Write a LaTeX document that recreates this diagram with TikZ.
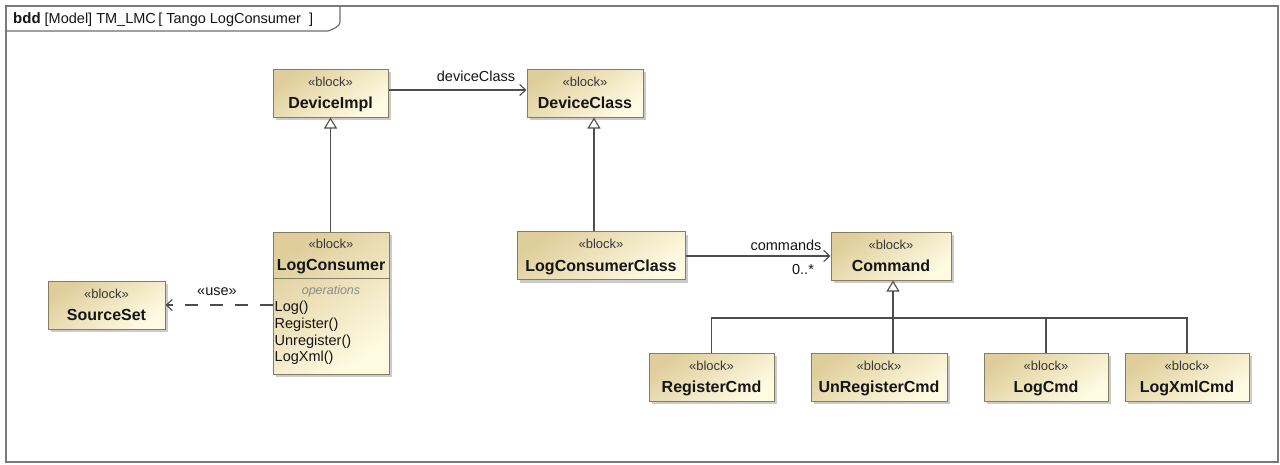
\documentclass[tikz,border=0pt]{standalone}
\usepackage{fontspec}
\setmainfont{Liberation Sans}
\usetikzlibrary{arrows.meta,shadows}

\definecolor{boxTop}{HTML}{DFCE9B}
\definecolor{boxBot}{HTML}{FFFBE3}
\definecolor{boxLine}{HTML}{857D5F}
\definecolor{wire}{HTML}{4D4D4D}
\definecolor{frameGray}{HTML}{7A7A7A}
\definecolor{txt}{HTML}{151515}
\definecolor{opsGray}{HTML}{8A8A8A}

\tikzset{
  blkbox/.style={draw=boxLine, line width=1pt, top color=boxTop, bottom color=boxBot,
    shading angle=35, inner sep=0pt,
    drop shadow={shadow xshift=3pt, shadow yshift=-3pt, fill=black!45, opacity=0.45}},
  stereo/.style={inner sep=0pt, text=txt!85, font=\fontsize{13}{15}\selectfont,
    text height=9.5pt, text depth=2pt},
  bname/.style={inner sep=0pt, text=txt, font=\bfseries\fontsize{16}{18}\selectfont,
    text height=11.5pt, text depth=3pt},
  lbl/.style={inner sep=0pt, text=txt, font=\fontsize{14.5}{16}\selectfont},
  opline/.style={inner sep=0pt, anchor=west, text=txt, font=\fontsize{14.5}{16}\selectfont},
  wireline/.style={draw=wire, line width=1.3pt},
  assoc/.style={wireline, -{Straight Barb[length=6pt, width=11pt, line width=1.1pt]}},
  gen/.style={wireline, -{Triangle[open, length=11pt, width=13pt, fill=white, line width=1.1pt]}},
  dep/.style={wireline, dash pattern=on 13pt off 12pt,
    -{Straight Barb[length=6pt, width=11pt, line width=1.1pt]}},
}

% a block: name, centre x, centre y, width, title
\newcommand{\sysblock}[5]{%
  \node[blkbox, minimum width=#4pt, minimum height=48pt] (#1) at (#2,#3) {};
  \node[stereo] (#1-st) at ([yshift=10.5pt]#1.center) {«block»};
  \node[bname] (#1-nm) at ([yshift=-11.5pt]#1.center) {#5};
}

\begin{document}
\begin{tikzpicture}[x=1pt, y=-1pt]
  \useasboundingbox (0,0) rectangle (1280,464);
  \fill[white] (0,0) rectangle (1280,464);

  % diagram frame and its heading tab
  \draw[frameGray, line width=2.2pt] (6,6) rectangle (1278,462);
  \draw[frameGray!90!black, line width=1.2pt]
    (6,31) -- (328,31) .. controls (334,29) and (340,26) .. (340,22) -- (340,6);
  \node[anchor=west, inner sep=0pt, text=txt, font=\fontsize{14.5}{16}\selectfont]
    (heading) at (13,19.5) {\textbf{\fontsize{15}{16}\selectfont bdd} [Model] TM\_LMC\,[ Tango LogConsumer \ ]};

  % blocks
  \sysblock{dimpl}{330.5}{93}{115}{DeviceImpl}
  \sysblock{dclass}{585}{93}{116}{DeviceClass}
  \sysblock{ss}{106.5}{305}{117}{SourceSet}
  \sysblock{lcc}{601}{255.5}{168}{LogConsumerClass}
  \sysblock{cmd}{891}{256}{120}{Command}
  \sysblock{rc}{711.5}{377}{125}{RegisterCmd}
  \sysblock{urc}{879}{377}{136}{UnRegisterCmd}
  \sysblock{lcmd}{1046}{377}{124}{LogCmd}
  \sysblock{lxc}{1187}{377}{124}{LogXmlCmd}

  % LogConsumer block with its operations compartment
  \node[blkbox, minimum width=116pt, minimum height=142pt] (lc) at (331,303) {};
  \node[stereo] (lc-st) at ([yshift=-13pt]lc.north) {«block»};
  \node[bname] (lc-nm) at ([yshift=-35pt]lc.north) {LogConsumer};
  \draw[boxLine, line width=1pt] ([yshift=-47pt]lc.north west) -- ([yshift=-47pt]lc.north east);
  \node[inner sep=0pt, text=opsGray, font=\itshape\fontsize{12.5}{14}\selectfont]
    (lc-ops) at ([yshift=-60pt]lc.north) {operations};
  \node[opline] (op1) at ([xshift=2pt, yshift=-76pt]lc.north west) {Log()};
  \node[opline] (op2) at ([xshift=2pt, yshift=-93pt]lc.north west) {Register()};
  \node[opline] (op3) at ([xshift=2pt, yshift=-110pt]lc.north west) {Unregister()};
  \node[opline] (op4) at ([xshift=2pt, yshift=-126pt]lc.north west) {LogXml()};

  % associations
  \draw[assoc] ([yshift=3pt]dimpl.east) -- ([yshift=3pt]dclass.west);
  \node[lbl] (lbl-dc) at (476,76) {deviceClass};
  \draw[assoc] (lcc.east |- cmd.west) -- (cmd.west);
  \node[lbl] (lbl-cmds) at (786,245) {commands};
  \node[lbl] (lbl-mult) at (803,270) {0..*};

  % usage dependency
  \draw[dep] (lc.west |- ss.east) -- (ss.east);
  \node[lbl] (lbl-use) at (217,292) {«use»};

  % generalizations
  \draw[gen] (dimpl.south |- lc.north) -- (dimpl.south);
  \draw[gen] ([xshift=-7pt]lcc.north) -- ([xshift=-7pt]lcc.north |- dclass.south);

  \coordinate (bar) at (893,318);
  \draw[wireline] (rc.north) |- (bar) -| (lxc.north);
  \draw[wireline] (lcmd.north) -- (lcmd.north |- bar);
  \draw[gen] (urc.north -| bar) -- (cmd.south -| bar);
\end{tikzpicture}
\end{document}
